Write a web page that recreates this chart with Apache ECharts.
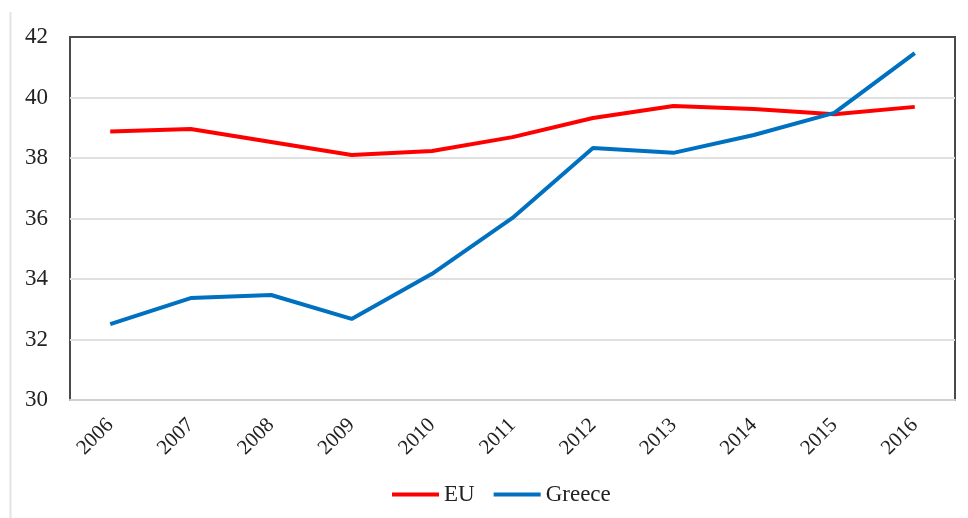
<!DOCTYPE html>
<html>
<head>
<meta charset="utf-8">
<script src="https://cdn.jsdelivr.net/npm/echarts@6/dist/echarts.min.js"></script>
<style>html,body{margin:0;padding:0;background:#fff;}#c{width:968px;height:518px;}</style>
</head>
<body>
<div id="c"></div>
<script>
const years = ['2006','2007','2008','2009','2010','2011','2012','2013','2014','2015','2016'];
const euValues = [38.88, 38.96, 38.53, 38.10, 38.23, 38.69, 39.32, 39.72, 39.62, 39.45, 39.69];
const greeceValues = [32.51, 33.37, 33.47, 32.68, 34.17, 36.02, 38.33, 38.17, 38.76, 39.49, 41.47];
const yTicks = [30, 32, 34, 36, 38, 40, 42];

const chart = echarts.init(document.getElementById('c'), null, {renderer: 'canvas'});
const font = 'Liberation Serif';
chart.setOption({
  animation: false,
  backgroundColor: '#fff',
  graphic: [{
    type: 'line', shape: {x1: 10.5, y1: 12, x2: 10.5, y2: 518},
    style: {stroke: '#e3e3e3', lineWidth: 2}
  }],
  grid: {left: 70, right: 13, top: 37, bottom: 118, show: true, borderColor: '#4a4a4a', borderWidth: 2, containLabel: false},
  legend: {
    top: 478, left: 387,
    itemWidth: 47, itemHeight: 4, itemGap: 19,
    icon: 'rect',
    textStyle: {fontFamily: font, fontSize: 23, color: '#222'},
    data: ['EU', 'Greece']
  },
  xAxis: {
    type: 'category', data: years, boundaryGap: true,
    axisLine: {show: true, lineStyle: {color: '#d0d0d0', width: 2}},
    axisTick: {show: false},
    axisLabel: {rotate: 45, margin: 22, fontFamily: font, fontSize: 21, color: '#222'}
  },
  yAxis: {
    type: 'value', min: yTicks[0], max: yTicks[yTicks.length - 1], interval: 2,
    axisLine: {show: false}, axisTick: {show: false},
    axisLabel: {margin: 22, fontFamily: font, fontSize: 23, color: '#222'},
    splitLine: {show: true, lineStyle: {color: ['#d0d0d0', '#e0e0e0', '#e0e0e0', '#e0e0e0', '#e0e0e0', '#e0e0e0', '#4a4a4a'], width: 2}}
  },
  series: [
    {name: 'EU', type: 'line', data: euValues, symbol: 'none', lineStyle: {color: '#ff0000', width: 4}, itemStyle: {color: '#ff0000'}},
    {name: 'Greece', type: 'line', data: greeceValues, symbol: 'none', lineStyle: {color: '#0070c0', width: 4}, itemStyle: {color: '#0070c0'}}
  ]
});
</script>
</body>
</html>
